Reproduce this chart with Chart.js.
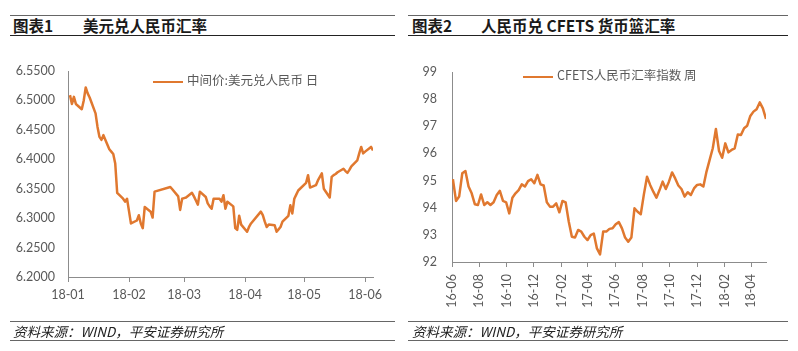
<!DOCTYPE html>
<html>
<head>
<meta charset="utf-8">
<script src="https://cdn.jsdelivr.net/npm/chart.js@4.4.1/dist/chart.umd.min.js"></script>
<style>
  body { margin: 0; background: #fff; }
  #wrap { position: relative; width: 798px; height: 351px; overflow: hidden; font-family: "Noto Sans CJK SC", sans-serif; }
  .rule { position: absolute; height: 0; border-top: 1px solid #666; }
  .rule.dark { border-top: 1.5px solid #222; }
  .title { position: absolute; top: 15px; font-weight: 700; font-size: 15.5px; color: #1a1a1a; line-height: 20px; white-space: nowrap; }
  .src { position: absolute; top: 322px; font-style: italic; font-size: 13.5px; color: #222; line-height: 18px; white-space: nowrap; }
  .legend { position: absolute; font-size: 12.5px; color: #595959; line-height: 14px; white-space: nowrap; }
  .legend i { display: inline-block; width: 30px; height: 0; border-top: 2.5px solid #E0782F; vertical-align: middle; margin-right: 4px; }
  canvas { position: absolute; top: 0; }
</style>
</head>
<body>
<div id="wrap">
  <div class="rule" style="left:10px;top:15px;width:385px"></div>
  <div class="rule dark" style="left:10px;top:35px;width:385px"></div>
  <div class="title" style="left:13px">图表1</div>
  <div class="title" style="left:83px">美元兑人民币汇率</div>

  <div class="rule" style="left:408px;top:15px;width:380px"></div>
  <div class="rule dark" style="left:408px;top:35px;width:380px"></div>
  <div class="title" style="left:412px">图表2</div>
  <div class="title" style="left:481px">人民币兑 CFETS 货币篮汇率</div>

  <canvas id="chart1" width="398" height="351" style="left:0"></canvas>
  <canvas id="chart2" width="398" height="351" style="left:400px"></canvas>

  <div class="legend" style="left:153px;top:73px"><i></i>中间价:美元兑人民币 日</div>
  <div class="legend" style="left:523px;top:68px"><i></i>CFETS人民币汇率指数 周</div>

  <div class="rule" style="left:10px;top:321px;width:385px"></div>
  <div class="rule" style="left:10px;top:340px;width:385px"></div>
  <div class="src" style="left:13px">资料来源：WIND，平安证券研究所</div>

  <div class="rule" style="left:408px;top:321px;width:380px"></div>
  <div class="rule" style="left:408px;top:340px;width:380px"></div>
  <div class="src" style="left:412px">资料来源：WIND，平安证券研究所</div>
</div>

<script>
// chart 1: USD/CNY central parity, daily 2018
var dates1 = [
  '01-02','01-03','01-04','01-05','01-08','01-09','01-10','01-11','01-12',
  '01-15','01-16','01-17','01-18','01-19','01-22','01-23','01-24','01-25','01-26',
  '01-29','01-30','01-31','02-01','02-02','02-05','02-06','02-07','02-08','02-09',
  '02-12','02-13','02-14','02-22','02-23','02-26','02-27','02-28','03-01','03-02',
  '03-05','03-06','03-07','03-08','03-09','03-12','03-13','03-14','03-15','03-16',
  '03-19','03-20','03-21','03-22','03-23','03-26','03-27','03-28','03-29','03-30',
  '04-02','04-03','04-04','04-09','04-10','04-11','04-12','04-13','04-16','04-17',
  '04-18','04-19','04-20','04-23','04-24','04-25','04-26','04-27','04-28','05-02',
  '05-03','05-04','05-07','05-08','05-09','05-10','05-11','05-14','05-15','05-16',
  '05-17','05-18','05-21','05-22','05-23','05-24','05-25','05-28','05-29','05-30',
  '05-31','06-01','06-04','06-05'
];
var usdCny = [
  6.509, 6.494, 6.506, 6.494, 6.485, 6.500, 6.522, 6.512, 6.505,
  6.478, 6.455, 6.438, 6.433, 6.441, 6.417, 6.413, 6.409, 6.393, 6.343,
  6.333, 6.328, 6.333, 6.312, 6.291, 6.296, 6.305, 6.291, 6.283, 6.319,
  6.311, 6.301, 6.345, 6.353, 6.349, 6.337, 6.314, 6.333, 6.334, 6.335,
  6.343, 6.337, 6.330, 6.323, 6.345, 6.336, 6.325, 6.320, 6.316, 6.333,
  6.333, 6.328, 6.339, 6.316, 6.328, 6.320, 6.283, 6.280, 6.304, 6.289,
  6.277, 6.285, 6.291, 6.311, 6.305, 6.294, 6.285, 6.289, 6.288, 6.277,
  6.281, 6.285, 6.294, 6.304, 6.322, 6.308, 6.333, 6.340, 6.347, 6.360,
  6.373, 6.352, 6.356, 6.364, 6.370, 6.376, 6.350, 6.335, 6.370, 6.373,
  6.375, 6.378, 6.384, 6.380, 6.377, 6.382, 6.388, 6.398, 6.410, 6.421,
  6.410, 6.413, 6.421, 6.415
];
var year1 = '2018';
var xLabels1 = ['18-01', '18-02', '18-03', '18-04', '18-05', '18-06'];
var yTicks1 = [6.20, 6.25, 6.30, 6.35, 6.40, 6.45, 6.50, 6.55];

// chart 2: CFETS RMB index, weekly (Fridays)
var firstWeek2 = '2016-06-03';
var cfets = [
  95.05, 94.25, 94.41, 95.27, 95.35, 94.78, 94.53, 94.13, 94.10, 94.49,
  94.10, 94.20, 94.10, 94.20, 94.47, 94.62, 94.25, 94.20, 93.79, 94.37,
  94.53, 94.65, 94.86, 94.78, 94.98, 95.05, 94.90, 95.21, 94.86, 94.82,
  94.20, 94.04, 94.04, 94.16, 93.83, 94.25, 94.20, 93.49, 92.93, 92.90,
  93.18, 93.12, 92.93, 92.81, 92.99, 93.05, 92.50, 92.28, 93.12, 93.12,
  93.22, 93.24, 93.39, 93.47, 93.24, 92.90, 92.75, 92.90, 93.98, 93.85,
  93.76, 94.49, 95.14, 94.84, 94.59, 94.37, 94.65, 94.96, 94.69, 94.96,
  95.30, 95.08, 94.82, 94.69, 94.41, 94.57, 94.47, 94.71, 94.84, 94.86,
  94.78, 95.33, 95.76, 96.19, 96.90, 96.09, 95.84, 96.37, 96.04, 96.13,
  96.19, 96.70, 96.68, 96.93, 97.02, 97.38, 97.54, 97.63, 97.88, 97.66,
  97.27
];
var xLabels2 = ['16-06', '16-08', '16-10', '16-12', '17-02', '17-04',
                '17-06', '17-08', '17-10', '17-12', '18-02', '18-04'];
var yTicks2 = [92, 93, 94, 95, 96, 97, 98, 99];

var LINE = '#E0782F';
var AXIS = '#8c8c8c';
var TICKFONT = { family: 'Lato, "Liberation Sans", sans-serif', size: 12.5 };

function dayNum(str) {
  var p = str.split('-');
  return Date.UTC(+p[0], +p[1] - 1, +p[2]) / 86400000;
}
function labelDay(lbl) {
  var p = lbl.split('-');
  return Date.UTC(2000 + +p[0], +p[1] - 1, 1) / 86400000;
}

function drawLine(id, points, xLabels, yTicks, yDigits, box) {
  var base = labelDay(xLabels[0]);
  var ctx = document.getElementById(id).getContext('2d');
  return new Chart(ctx, {
    type: 'line',
    data: {
      datasets: [{
        data: points,
        borderColor: LINE,
        borderWidth: 2.5,
        pointRadius: 0,
        tension: 0,
        borderJoinStyle: 'round'
      }]
    },
    options: {
      responsive: false,
      animation: false,
      layout: { padding: { left: 0, top: box.top, right: box.right, bottom: 0 } },
      plugins: { legend: { display: false }, tooltip: { enabled: false } },
      scales: {
        x: {
          type: 'linear',
          min: 0,
          max: points[points.length - 1].x,
          afterBuildTicks: function (s) {
            s.ticks = xLabels.map(function (l) { return { value: labelDay(l) - base }; });
          },
          afterFit: function (s) { s.height = box.xh; },
          ticks: {
            autoSkip: false,
            minRotation: box.rot,
            maxRotation: box.rot,
            padding: box.xpad,
            color: '#595959',
            font: TICKFONT,
            callback: function (v, i) { return xLabels[i]; }
          },
          grid: { drawOnChartArea: false, drawTicks: true, tickLength: 5, color: AXIS },
          border: { display: true, color: AXIS }
        },
        y: {
          min: yTicks[0],
          max: yTicks[yTicks.length - 1],
          afterBuildTicks: function (s) {
            s.ticks = yTicks.map(function (v) { return { value: v }; });
          },
          afterFit: function (s) { s.width = box.yw; },
          ticks: {
            padding: box.ypad,
            color: '#595959',
            font: TICKFONT,
            callback: function (v) { return Number(v).toFixed(yDigits); }
          },
          grid: { display: false, drawTicks: false },
          border: { display: true, color: AXIS }
        }
      }
    }
  });
}

var base1 = labelDay(xLabels1[0]);
var points1 = dates1.map(function (d, i) {
  return { x: dayNum(year1 + '-' + d) - base1, y: usdCny[i] };
});

var base2 = labelDay(xLabels2[0]);
var start2 = dayNum(firstWeek2) - base2;
var points2 = cfets.map(function (v, i) {
  return { x: start2 + 7 * i, y: v };
});

drawLine('chart1', points1, xLabels1, yTicks1, 4, { top: 71, right: 25, xh: 74, yw: 68, ypad: 13, xpad: 5, rot: 0 });
drawLine('chart2', points2, xLabels2, yTicks2, 0, { top: 72, right: 32, xh: 89, yw: 52, ypad: 15, xpad: 7, rot: 90 });
</script>
</body>
</html>
